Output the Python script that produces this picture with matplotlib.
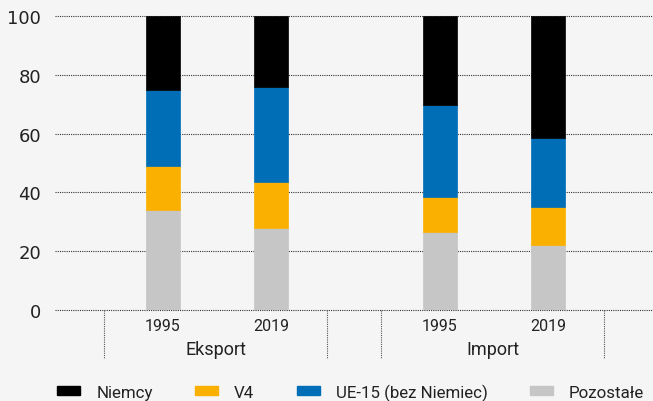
import numpy as np
import matplotlib
matplotlib.use("Agg")
import matplotlib.pyplot as plt
from matplotlib.patches import Patch

groups = ["Eksport", "Import"]
years = ["1995", "2019"]
series = ["Pozostałe", "V4", "UE-15 (bez Niemiec)", "Niemcy"]
# order of bars: Eksport 1995, Eksport 2019, Import 1995, Import 2019
pozostale = [34.0, 27.9, 26.4, 22.2]
v4 = [15.0, 15.6, 11.9, 12.7]
ue15 = [25.8, 32.4, 31.4, 23.6]
niemcy = [25.2, 24.1, 30.3, 41.5]

colors = {"Pozostałe": "#c6c6c6", "V4": "#f9b000",
          "UE-15 (bez Niemiec)": "#006eb7", "Niemcy": "#000000"}
bg = "#f5f5f5"

fig = plt.figure(figsize=(6.53, 4.02), dpi=100, facecolor=bg)
ax = fig.add_axes([55 / 653, 91 / 402, 598 / 653, 294 / 402], facecolor=bg)

group_gap = 1.565
xpos = np.array([g * (1 + group_gap) + y + 1 for g in range(2) for y in range(2)])
width = 0.315

bottom = np.zeros(4)
for name, vals in zip(series, [pozostale, v4, ue15, niemcy]):
    ax.bar(xpos, vals, width, bottom=bottom, color=colors[name], zorder=3,
           edgecolor=colors[name], linewidth=0.5)
    bottom += np.array(vals)

ax.set_xlim(0, 5.537)
ax.set_ylim(0, 100)
ax.set_yticks(range(0, 101, 20))
ax.set_yticklabels([str(t) for t in range(0, 101, 20)], fontsize=13,
                   family="DejaVu Sans", color="#222222")
ax.tick_params(axis="y", length=0, pad=10)
ax.set_xticks([])
for s in ax.spines.values():
    s.set_visible(False)
for t in range(0, 101, 20):
    ax.axhline(t, color="#333333", linestyle=(0, (1, 1)), linewidth=0.8,
               zorder=1, clip_on=False)

trans = ax.get_xaxis_transform()
lab_font = dict(family="Roboto", color="#222222")
for i, x in enumerate(xpos):
    ax.text(x, -16 / 294, years[i % 2], transform=trans, ha="center", va="center",
            fontsize=11.5, **lab_font)
for g, name in enumerate(groups):
    left = xpos[2 * g] - 0.546
    right = xpos[2 * g + 1] + 0.519
    ax.text((left + right) / 2, -39 / 294, name, transform=trans, ha="center",
            va="center", fontsize=13, **lab_font)
    for xx in (left, right):
        ax.plot([xx, xx], [0, -48 / 294], transform=trans, color="#555555",
                linestyle=(0, (1, 1)), linewidth=0.8, clip_on=False)

handles = [Patch(color=colors[n], label=n) for n in ["Niemcy", "V4", "UE-15 (bez Niemiec)", "Pozostałe"]]
fig.legend(handles=handles, ncol=4, loc="center left",
           bbox_to_anchor=(42 / 653, 1 - 393 / 402), frameon=False,
           prop=dict(family="Roboto", size=12.2), handlelength=1.35, handleheight=0.46,
           handletextpad=0.95, columnspacing=2.5, labelcolor="#222222")

fig.savefig("out.png", dpi=100, facecolor=bg)
